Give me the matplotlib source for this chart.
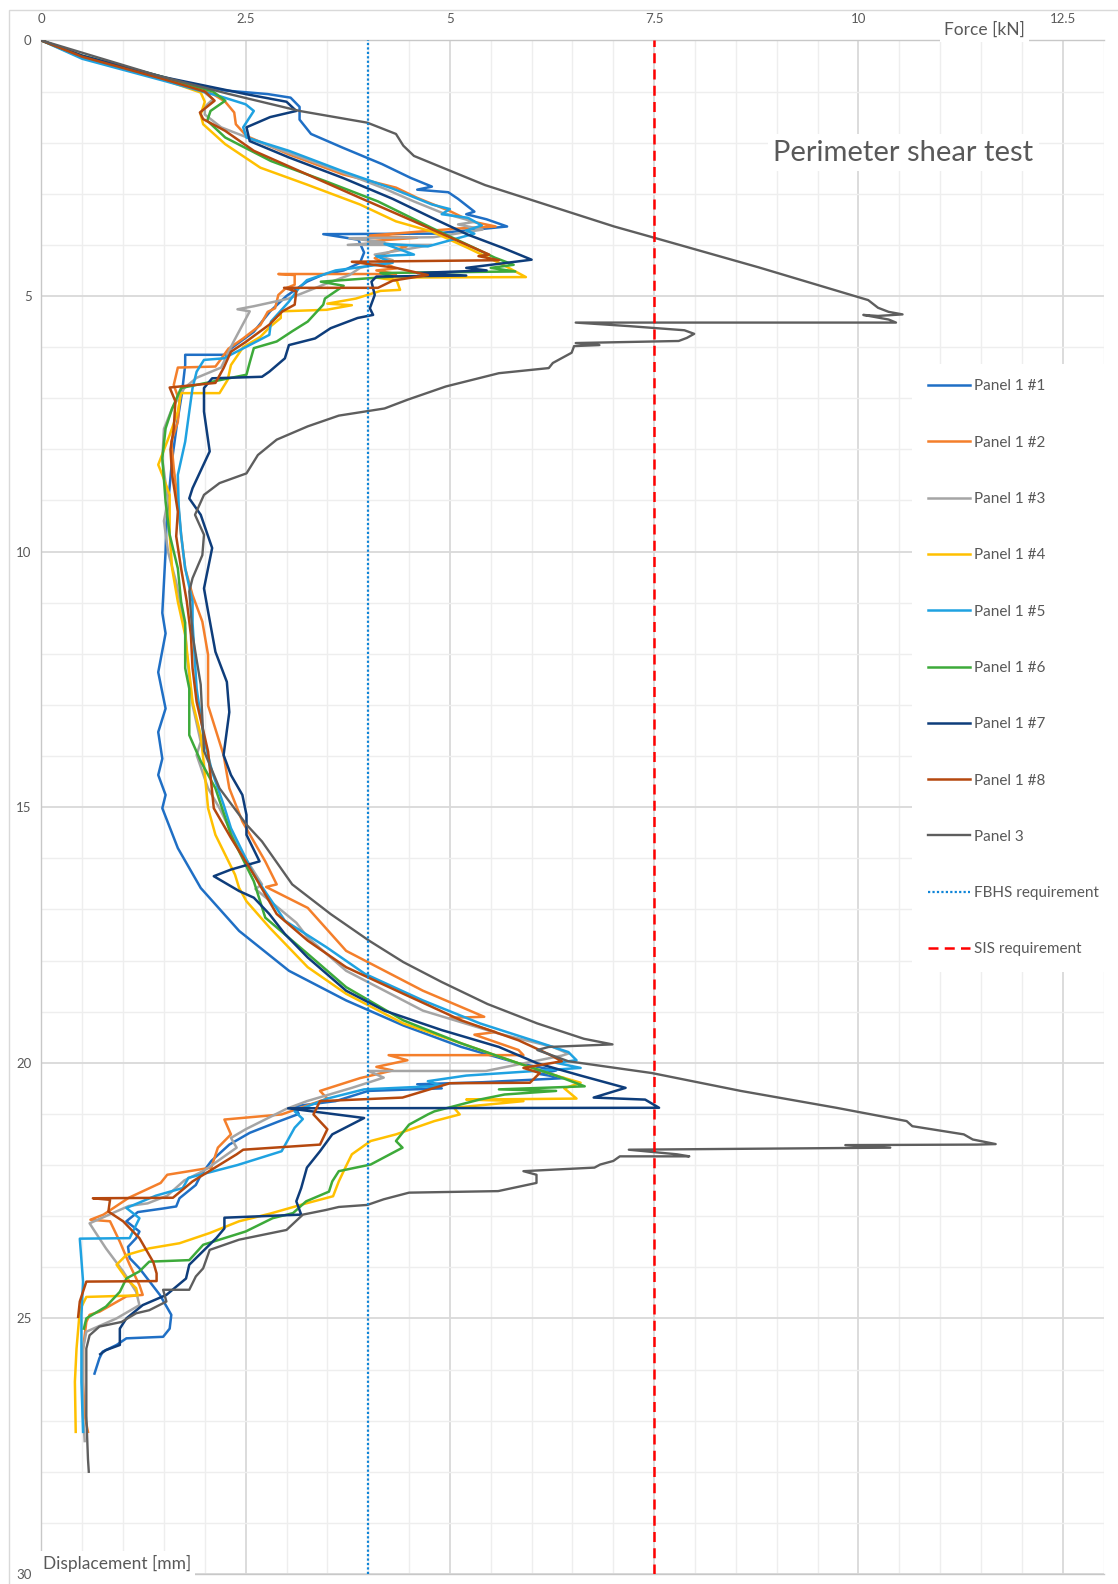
import matplotlib
matplotlib.use("Agg")
import matplotlib.pyplot as plt
from matplotlib.patches import Rectangle

plt.rcParams['font.family'] = ['Lato', 'DejaVu Sans']

# ---------------- data (force kN, displacement mm) ----------------
p1_1_force = [0, 0.5, 1.5, 2.25, 2.77, 3.05, 3.16, 3.16, 3.3, 3.69, 4.17, 4.52, 4.78, 4.6, 4.98, 5.1, 5.3, 5.2, 5.45, 5.7,
              4.8, 3.45, 3.88, 3.95, 3.9, 3.7, 3.45, 3.25, 3.0, 2.8, 2.6, 2.3, 2.28, 1.76, 1.76, 1.72, 1.66, 1.6, 1.56, 1.53,
              1.52, 1.5, 1.48, 1.52, 1.43, 1.52, 1.43, 1.48, 1.43, 1.52, 1.48, 1.67, 1.95, 2.42, 3.03, 3.73, 4.43, 5.14, 5.84,
              6.3, 6.1, 6.4, 5.4, 4.6, 4.9, 4.0, 3.6, 3.1, 3.15, 2.9, 2.55, 2.3, 2.08, 1.95, 1.89, 1.69, 1.65, 1.49, 1.18,
              1.04, 1.2, 1.16, 1.06, 1.08, 1.2, 1.45, 1.59, 1.57, 1.49, 1.04, 0.92, 0.75, 0.71, 0.65]
p1_1_disp = [0, 0.33, 0.75, 0.98, 1.05, 1.12, 1.3, 1.55, 1.83, 2.1, 2.42, 2.69, 2.86, 2.92, 2.97, 3.1, 3.35, 3.4, 3.5, 3.64,
             3.78, 3.79, 3.9, 4.15, 4.35, 4.5, 4.58, 4.72, 5.0, 5.3, 5.7, 6.05, 6.15, 6.15, 6.35, 6.9, 7.5, 8.2, 8.9, 9.5,
             10.0, 10.6, 11.2, 11.6, 12.36, 13.07, 13.53, 14.05, 14.37, 14.76, 15.02, 15.8, 16.58, 17.42, 18.2, 18.78, 19.27, 19.69, 20.01,
             20.15, 20.22, 20.3, 20.38, 20.42, 20.5, 20.55, 20.75, 20.85, 21.0, 21.15, 21.37, 21.6, 21.92, 22.2, 22.39, 22.65, 22.81, 22.85, 22.92,
             23.1, 23.3, 23.43, 23.6, 23.82, 24.02, 24.54, 24.93, 25.2, 25.36, 25.39, 25.52, 25.65, 25.78, 26.08]

p1_2_force = [0, 0.5, 1.5, 2.1, 2.25, 2.36, 2.38, 2.51, 3.03, 3.69, 4.34, 4.6, 5.0, 5.26, 5.56, 5.1, 4.0, 4.6, 4.0, 4.47,
              4.17, 4.08, 4.34, 4.1, 4.34, 2.9, 3.1, 3.1, 2.99, 2.9, 2.86, 2.77, 2.68, 2.47, 2.29, 2.2, 2.13, 1.67, 1.62, 1.69,
              1.67, 1.59, 1.62, 1.67, 1.71, 1.76, 1.85, 1.97, 2.04, 2.04, 2.23, 2.3, 2.46, 2.74, 2.88, 2.75, 3.26, 3.73, 4.67, 5.42,
              5.0, 5.56, 5.3, 5.84, 5.9, 4.25, 4.48, 4.1, 4.3, 3.9, 3.41, 3.5, 2.94, 2.24, 2.32, 2.16, 2.08, 1.54, 1.46, 1.07,
              0.76, 0.6, 0.84, 0.96, 1.08, 1.2, 1.24, 1.04, 0.71, 0.59, 0.55, 0.51, 0.51, 0.53, 0.57]
p1_2_disp = [0, 0.31, 0.74, 1.05, 1.2, 1.41, 1.64, 1.87, 2.23, 2.62, 2.88, 3.08, 3.34, 3.54, 3.64, 3.68, 3.82, 3.86, 3.93, 4.03,
             4.19, 4.26, 4.46, 4.5, 4.57, 4.57, 4.59, 4.78, 4.85, 4.98, 5.24, 5.31, 5.57, 5.83, 6.03, 6.23, 6.38, 6.4, 6.74, 7.06,
             7.46, 7.85, 8.37, 9.02, 9.67, 10.33, 10.85, 11.37, 12.02, 13.01, 13.98, 14.63, 15.28, 16.06, 16.51, 16.56, 16.97, 17.81, 18.59, 19.1,
             19.12, 19.4, 19.45, 19.75, 19.85, 19.85, 19.95, 20.08, 20.15, 20.3, 20.55, 20.7, 21.01, 21.11, 21.4, 21.66, 22.05, 22.19, 22.35, 22.64,
             22.97, 23.07, 23.1, 23.5, 23.95, 24.35, 24.54, 24.57, 24.87, 24.93, 25.07, 25.59, 26.24, 26.9, 27.22]

p1_3_force = [0, 0.5, 1.5, 2.0, 2.1, 2.0, 2.0, 2.2, 2.6, 3.2, 3.8, 4.2, 4.56, 4.9, 5.3, 5.1, 5.4, 4.8, 3.77, 4.2,
              3.75, 4.78, 4.08, 4.3, 3.9, 3.77, 3.5, 3.03, 2.6, 2.4, 2.55, 2.5, 2.35, 2.2, 1.9, 1.75, 1.6, 1.5, 1.48, 1.55,
              1.5, 1.55, 1.65, 1.76, 1.78, 1.85, 1.95, 1.9, 2.04, 2.18, 2.42, 2.7, 2.62, 3.12, 3.26, 3.73, 4.67, 5.6, 6.26, 6.45,
              6.37, 5.44, 4.0, 4.19, 3.8, 3.25, 3.0, 2.5, 2.32, 2.39, 2.0, 1.75, 1.54, 1.3, 1.07, 0.59, 0.63, 0.79, 1.0, 1.16,
              1.2, 0.92, 0.55, 0.51, 0.51, 0.53]
p1_3_disp = [0, 0.32, 0.74, 1.02, 1.15, 1.3, 1.45, 1.7, 1.95, 2.3, 2.65, 2.9, 3.15, 3.37, 3.55, 3.6, 3.7, 3.85, 3.87, 3.95,
             4.0, 4.0, 4.19, 4.3, 4.45, 4.59, 4.75, 5.05, 5.2, 5.26, 5.3, 5.45, 5.9, 6.4, 6.6, 6.8, 7.2, 7.6, 8.2, 9.0,
             9.4, 10.0, 10.6, 11.5, 12.0, 13.0, 13.72, 13.98, 14.63, 15.02, 15.8, 16.51, 16.6, 17.26, 17.55, 18.2, 18.98, 19.43, 19.69, 19.82,
             19.86, 20.16, 20.16, 20.29, 20.49, 20.75, 20.9, 21.3, 21.47, 21.66, 22.1, 22.3, 22.6, 22.75, 22.8, 23.14, 23.24, 23.63, 24.08, 24.48,
             24.74, 25.0, 25.26, 25.6, 26.9, 27.4]

p1_4_force = [0, 0.5, 1.5, 1.95, 2.0, 1.95, 1.98, 2.25, 2.68, 3.25, 3.9, 4.34, 4.78, 5.22, 5.65, 5.93, 4.1, 4.35, 4.39, 4.15,
              3.85, 3.5, 3.8, 3.49, 2.93, 2.93, 2.8, 2.68, 2.47, 2.32, 2.28, 2.18, 1.71, 1.67, 1.57, 1.43, 1.48, 1.57, 1.57, 1.6,
              1.67, 1.76, 1.85, 1.95, 1.99, 2.04, 2.13, 2.37, 2.42, 2.51, 2.79, 3.26, 3.73, 4.43, 5.14, 5.84, 6.3, 6.6, 6.4, 6.55,
              5.2, 5.9, 5.05, 5.12, 4.81, 4.34, 4.03, 3.8, 3.72, 3.64, 3.57, 3.24, 2.8, 2.42, 2.06, 1.69, 1.32, 1.04, 0.92, 1.04,
              1.16, 1.18, 0.55, 0.47, 0.43, 0.41, 0.42]
p1_4_disp = [0, 0.34, 0.77, 1.02, 1.2, 1.45, 1.64, 2.03, 2.49, 2.82, 3.21, 3.54, 3.74, 4.06, 4.39, 4.63, 4.64, 4.7, 4.88, 4.9,
             5.05, 5.15, 5.18, 5.27, 5.3, 5.43, 5.6, 5.8, 6.0, 6.35, 6.64, 6.9, 6.9, 7.26, 7.72, 8.3, 8.5, 8.89, 9.67, 10.33,
             10.98, 11.63, 12.94, 13.59, 14.18, 15.02, 15.54, 16.32, 16.58, 16.84, 17.35, 18.13, 18.65, 19.23, 19.62, 20.01, 20.25, 20.39, 20.5, 20.7,
             20.72, 20.75, 20.88, 21.01, 21.14, 21.4, 21.53, 21.79, 22.05, 22.32, 22.61, 22.75, 22.95, 23.1, 23.33, 23.53, 23.63, 23.76, 23.95, 24.22,
             24.41, 24.55, 24.58, 24.84, 25.59, 26.24, 27.22]

p1_5_force = [0, 0.5, 1.5, 2.2, 2.5, 2.6, 2.47, 2.51, 3.03, 3.69, 4.3, 4.78, 5.0, 4.9, 5.22, 5.39, 5.2, 5.3, 4.73, 4.2,
              4.56, 4.1, 4.3, 3.6, 3.25, 3.15, 3.03, 2.81, 2.79, 2.5, 2.23, 1.99, 1.9, 1.85, 1.81, 1.76, 1.67, 1.68, 1.71, 1.76,
              1.85, 1.85, 1.9, 1.99, 2.09, 2.23, 2.32, 2.6, 2.98, 3.49, 3.96, 4.67, 5.37, 6.07, 6.45, 6.55, 6.3, 6.6, 5.2, 4.73,
              4.9, 3.95, 3.5, 3.1, 3.2, 3.1, 2.94, 2.4, 1.8, 1.73, 1.4, 1.04, 1.2, 1.08, 0.47, 0.51, 0.49, 0.49, 0.51]
p1_5_disp = [0, 0.36, 0.79, 1.1, 1.25, 1.38, 1.7, 1.9, 2.16, 2.56, 2.9, 3.21, 3.3, 3.4, 3.47, 3.62, 3.72, 3.78, 4.03, 3.98,
             4.19, 4.22, 4.35, 4.5, 4.69, 4.85, 5.11, 5.5, 5.76, 6.0, 6.22, 6.25, 6.48, 6.8, 7.26, 7.85, 8.5, 9.1, 9.67, 10.33,
             10.98, 11.39, 12.68, 13.66, 14.31, 14.95, 15.41, 16.32, 17.22, 17.74, 18.26, 18.78, 19.23, 19.59, 19.79, 19.95, 20.0, 20.1, 20.25, 20.36,
             20.45, 20.52, 20.7, 20.95, 21.1, 21.27, 21.73, 22.0, 22.25, 22.45, 22.6, 22.84, 23.04, 23.43, 23.44, 24.28, 24.93, 26.24, 27.22]

p1_6_force = [0, 0.5, 1.5, 2.1, 2.25, 2.07, 2.03, 2.25, 2.81, 3.47, 4.12, 4.78, 5.3, 5.55, 5.78, 5.5, 5.8, 4.15, 4.3, 3.42,
              3.7, 3.47, 3.45, 3.26, 3.07, 2.88, 2.6, 2.55, 2.51, 1.71, 1.6, 1.52, 1.48, 1.52, 1.57, 1.67, 1.71, 1.76, 1.76, 1.81,
              1.81, 1.95, 2.13, 2.32, 2.6, 2.74, 3.26, 3.73, 4.43, 5.14, 5.84, 6.3, 6.65, 5.6, 6.3, 5.67, 5.36, 4.81, 4.73, 4.5,
              4.34, 4.42, 4.03, 3.64, 3.56, 3.52, 3.24, 3.08, 2.83, 2.5, 1.98, 1.81, 1.32, 1.2, 1.04, 0.96, 0.79, 0.55, 0.52]
p1_6_disp = [0, 0.3, 0.72, 1.0, 1.18, 1.38, 1.57, 1.9, 2.36, 2.75, 3.15, 3.67, 4.06, 4.25, 4.39, 4.45, 4.52, 4.55, 4.62, 4.72,
             4.8, 5.05, 5.17, 5.5, 5.69, 5.89, 6.02, 6.3, 6.54, 6.8, 7.2, 7.59, 8.17, 9.02, 9.67, 10.33, 10.98, 11.39, 12.28, 12.68,
             13.59, 14.1, 14.63, 15.54, 16.45, 17.16, 17.87, 18.52, 19.17, 19.62, 20.01, 20.25, 20.46, 20.52, 20.55, 20.62, 20.72, 20.95, 21.01, 21.21,
             21.53, 21.66, 21.99, 22.12, 22.32, 22.52, 22.71, 22.94, 23.04, 23.3, 23.56, 23.86, 23.89, 24.08, 24.22, 24.48, 24.77, 25.0, 25.2]

p1_7_force = [0, 0.5, 1.5, 2.5, 3.0, 3.12, 2.8, 2.51, 2.55, 3.03, 3.69, 4.3, 4.78, 5.22, 5.65, 6.0, 5.2, 5.45, 4.6, 5.2,
              4.1, 4.04, 4.08, 4.02, 4.06, 3.87, 3.54, 3.35, 3.03, 2.98, 2.79, 2.7, 2.09, 1.99, 1.99, 2.06, 1.85, 1.81, 1.95, 2.09,
              1.99, 2.04, 2.13, 2.27, 2.3, 2.23, 2.32, 2.46, 2.51, 2.51, 2.67, 2.32, 2.11, 2.42, 2.6, 2.79, 2.98, 3.26, 3.73, 4.2,
              4.9, 5.6, 6.07, 6.6, 7.15, 6.76, 7.39, 7.56, 3.02, 3.95, 3.56, 3.41, 3.25, 3.18, 3.12, 3.18, 2.24, 2.24, 2.14, 1.81,
              1.77, 1.53, 1.24, 1.04, 0.96, 0.96, 0.79, 0.72]
p1_7_disp = [0, 0.3, 0.72, 1.05, 1.2, 1.38, 1.5, 1.7, 1.97, 2.29, 2.69, 3.1, 3.47, 3.8, 4.06, 4.29, 4.45, 4.5, 4.55, 4.6,
             4.62, 4.72, 4.98, 5.24, 5.37, 5.43, 5.63, 5.83, 5.96, 6.22, 6.48, 6.58, 6.61, 6.8, 7.26, 8.04, 8.76, 8.96, 9.28, 9.93,
             10.72, 11.17, 11.96, 12.55, 13.14, 13.98, 14.37, 14.76, 15.15, 15.54, 16.06, 16.22, 16.35, 16.64, 16.77, 17.09, 17.48, 17.94, 18.59, 18.98,
             19.36, 19.69, 20.01, 20.25, 20.49, 20.68, 20.72, 20.88, 20.89, 21.08, 21.4, 21.73, 22.05, 22.45, 22.71, 22.97, 23.03, 23.24, 23.43, 23.95,
             24.22, 24.54, 24.74, 25.0, 25.2, 25.52, 25.62, 25.7]

p1_8_force = [0, 0.5, 1.5, 2.0, 2.12, 1.94, 1.98, 2.25, 2.6, 3.25, 3.9, 4.56, 5.21, 5.48, 5.35, 5.6, 3.8, 4.34, 4.73, 4.3,
              4.12, 2.97, 3.12, 3.1, 2.95, 2.79, 2.5, 2.32, 2.23, 2.13, 1.57, 1.64, 1.62, 1.58, 1.6, 1.67, 1.65, 1.71, 1.78, 1.83,
              1.85, 1.9, 2.04, 2.11, 2.32, 2.6, 2.88, 3.26, 3.73, 4.43, 5.14, 5.84, 6.22, 6.37, 5.9, 6.1, 5.98, 5.0, 4.42, 3.41,
              3.33, 3.5, 3.41, 2.47, 2.39, 1.85, 1.61, 0.63, 0.84, 0.82, 1.0, 1.2, 1.37, 1.41, 1.41, 0.55, 0.47, 0.45]
p1_8_disp = [0, 0.32, 0.76, 1.0, 1.18, 1.41, 1.54, 1.77, 2.16, 2.62, 3.08, 3.54, 4.0, 4.19, 4.22, 4.3, 4.33, 4.45, 4.59, 4.7,
             4.84, 4.84, 4.91, 5.17, 5.3, 5.56, 5.9, 6.09, 6.41, 6.7, 6.79, 7.06, 7.59, 8.0, 8.5, 9.22, 9.7, 10.33, 10.98, 11.63,
             12.28, 12.94, 13.91, 15.02, 15.6, 16.32, 17.09, 17.61, 18.13, 18.65, 19.17, 19.56, 19.84, 19.97, 20.1, 20.2, 20.39, 20.4, 20.68, 20.75,
             21.01, 21.3, 21.6, 21.7, 21.79, 22.32, 22.64, 22.65, 22.68, 22.91, 23.1, 23.43, 23.9, 24.12, 24.27, 24.28, 24.67, 24.97]

p3_force = [0, 1.43, 2.3, 3.16, 3.99, 4.34, 4.43, 4.56, 5.43, 7.01, 7.5, 8.78, 10.12, 10.24, 10.37, 10.54, 10.24, 10.06, 10.37, 10.46,
            6.54, 7.2, 7.87, 7.99, 7.9, 7.8, 6.54, 6.83, 6.52, 6.49, 6.26, 6.21, 5.6, 4.95, 4.48, 4.2, 4.0, 3.64, 3.26, 2.88,
            2.65, 2.51, 2.18, 1.99, 1.88, 1.99, 1.97, 1.85, 1.81, 1.85, 1.95, 1.99, 2.18, 2.51, 2.7, 3.07, 3.54, 4.01, 4.43, 4.9,
            5.46, 6.07, 6.64, 6.99, 6.21, 6.07, 6.45, 7.47, 8.56, 9.73, 10.59, 10.66, 11.29, 11.4, 11.68, 11.45, 9.84, 10.39, 7.19, 7.78,
            7.93, 7.08, 7.0, 6.84, 6.77, 5.9, 6.06, 6.06, 5.59, 4.5, 4.19, 3.99, 3.64, 3.48, 3.2, 3.0, 2.42, 2.06, 1.98, 1.89,
            1.81, 1.49, 1.53, 1.32, 1.16, 0.98, 0.71, 0.59, 0.55, 0.55, 0.55, 0.57, 0.58]
p3_disp = [0, 0.69, 1.05, 1.38, 1.61, 1.83, 2.06, 2.26, 2.83, 3.64, 3.86, 4.44, 5.08, 5.23, 5.31, 5.36, 5.39, 5.37, 5.46, 5.52,
           5.52, 5.59, 5.67, 5.74, 5.82, 5.88, 5.92, 5.96, 5.98, 6.11, 6.31, 6.41, 6.51, 6.77, 7.03, 7.2, 7.25, 7.34, 7.55, 7.81,
           8.11, 8.47, 8.66, 8.89, 9.28, 9.67, 10.07, 10.52, 10.78, 11.63, 12.6, 13.9, 14.63, 15.34, 15.67, 16.51, 17.09, 17.61, 18.03, 18.42,
           18.85, 19.23, 19.53, 19.64, 19.69, 19.75, 19.97, 20.2, 20.55, 20.88, 21.14, 21.24, 21.4, 21.5, 21.59, 21.6, 21.61, 21.66, 21.7, 21.79,
           21.83, 21.83, 21.92, 21.99, 22.05, 22.12, 22.19, 22.35, 22.51, 22.54, 22.67, 22.78, 22.82, 22.88, 22.97, 23.27, 23.46, 23.66, 24.02, 24.18,
           24.44, 24.44, 24.67, 24.84, 24.9, 25.07, 25.16, 25.33, 25.59, 26.24, 26.9, 27.75, 28.0]

series_labels = ['Panel 1 #1', 'Panel 1 #2', 'Panel 1 #3', 'Panel 1 #4', 'Panel 1 #5',
                 'Panel 1 #6', 'Panel 1 #7', 'Panel 1 #8', 'Panel 3']
series_force = [p1_1_force, p1_2_force, p1_3_force, p1_4_force, p1_5_force,
                p1_6_force, p1_7_force, p1_8_force, p3_force]
series_disp = [p1_1_disp, p1_2_disp, p1_3_disp, p1_4_disp, p1_5_disp,
               p1_6_disp, p1_7_disp, p1_8_disp, p3_disp]
series_colors = ['#1F6FC5', '#F47F2B', '#A5A5A5', '#FFC000', '#1FA2E1',
                 '#3DAA3A', '#0E3D7B', '#B5480E', '#5E5E5E']

fbhs_requirement = 4.0   # kN
sis_requirement = 7.5    # kN

x_ticks = [0, 2.5, 5, 7.5, 10, 12.5]
x_tick_labels = ['0', '2.5', '5', '7.5', '10', '12.5']
y_ticks = [0, 5, 10, 15, 20, 25, 30]

# ---------------- figure ----------------
W, H = 1118, 1584
fig = plt.figure(figsize=(W / 100, H / 100), dpi=100)
fig.patch.set_facecolor('white')
x0, x1 = 41.4, 1103.5
y0, y1 = 40.4, 1574.0
ax = fig.add_axes([x0 / W, 1 - y1 / H, (x1 - x0) / W, (y1 - y0) / H])

ax.set_xlim(0, 13)
ax.set_ylim(30, 0)

ax.xaxis.tick_top()
ax.set_xticks(x_ticks)
ax.set_xticklabels(x_tick_labels)
ax.set_xticks([i * 0.5 for i in range(27)], minor=True)
ax.set_yticks(y_ticks)
ax.set_yticks(list(range(31)), minor=True)
ax.grid(which='minor', color='#EEEEEE', lw=1.0, zorder=0)
ax.grid(which='major', color='#D9D9D9', lw=1.3, zorder=0)
ax.set_axisbelow(True)
ax.tick_params(which='both', length=0)
ax.tick_params(axis='x', labelsize=9.5, labelcolor='#595959', pad=11)
ax.tick_params(axis='y', labelsize=9.5, labelcolor='#595959', pad=7)

ax.spines['right'].set_visible(False)
for s in ['top', 'left', 'bottom']:
    ax.spines[s].set_color('#C8C8C8')
    ax.spines[s].set_linewidth(1.0)

handles = []
for f, d, c, lab in zip(series_force, series_disp, series_colors, series_labels):
    lw = 1.7 if lab == 'Panel 3' else 1.8
    h, = ax.plot(f, d, color=c, lw=lw, label=lab, solid_joinstyle='round', zorder=3)
    handles.append(h)

hf = ax.axvline(fbhs_requirement, color='#0F85D8', lw=1.6, linestyle=(0, (1, 1)), zorder=4,
                label='FBHS requirement')
hs = ax.axvline(sis_requirement, color='#FF0000', lw=1.8, linestyle=(0, (4, 2.5)), zorder=4,
                label='SIS requirement')
handles += [hf, hs]

leg = ax.legend(handles=handles, loc='upper left', bbox_to_anchor=(0.82, 0.789),
                fontsize=11, frameon=True, fancybox=False, borderpad=1.0, borderaxespad=0,
                labelspacing=2.77, handlelength=2.75, handletextpad=0.3)
leg.get_frame().set_facecolor('white')
leg.get_frame().set_edgecolor('none')
leg.get_frame().set_alpha(1)
leg.set_zorder(6)
for t in leg.get_texts():
    t.set_color('#595959')

ax.text(10.55, 2.2, 'Perimeter shear test', ha='center', va='center', fontsize=21,
        color='#595959', zorder=5,
        bbox=dict(facecolor='white', edgecolor='none', pad=4))
ax.text(11.54, -0.2, 'Force [kN]', ha='center', va='center', fontsize=12.5,
        color='#595959', zorder=7, clip_on=False,
        bbox=dict(facecolor='white', edgecolor='none', pad=3))
ax.text(0.02, 29.8, 'Displacement [mm]', ha='left', va='center', fontsize=12.5,
        color='#595959', zorder=7, clip_on=False,
        bbox=dict(facecolor='white', edgecolor='none', pad=3))

# faint chart-area border
fig.patches.append(Rectangle((8.6 / W, -0.1), 1.2, 1 - 10 / H + 0.1, transform=fig.transFigure,
                             fill=False, edgecolor='#D9D9D9', lw=1.0))

fig.savefig('out.png', dpi=100, facecolor='white')
